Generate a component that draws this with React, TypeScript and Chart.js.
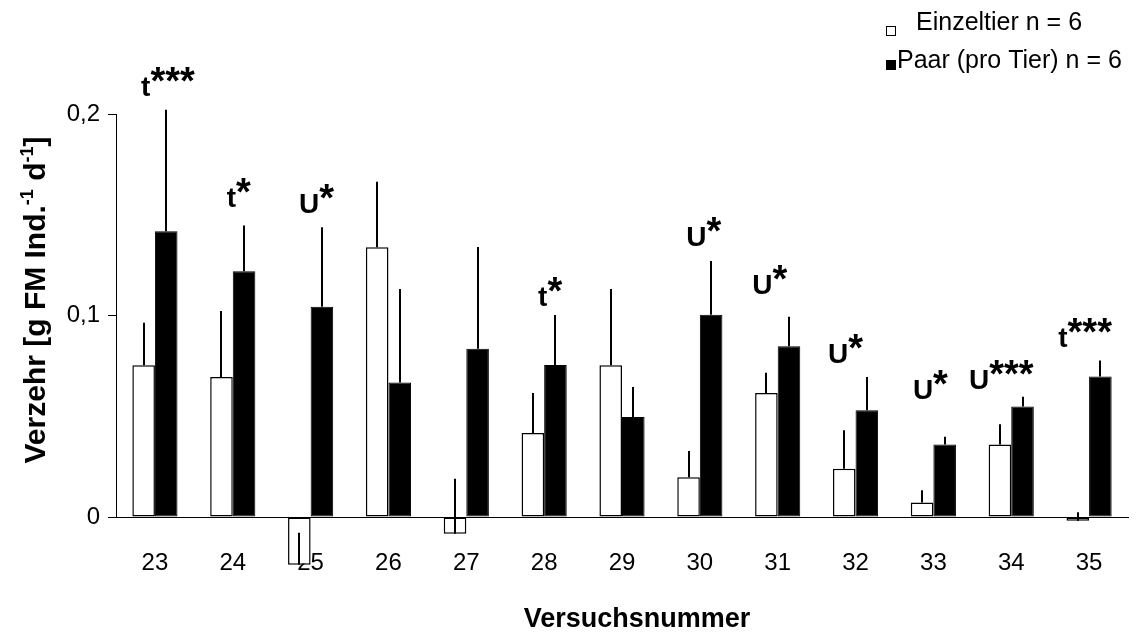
import React, { useEffect, useRef } from 'react';
import { Chart, registerables } from 'chart.js';

Chart.register(...registerables);

// ---------- data ----------
const categories = ['23', '24', '25', '26', '27', '28', '29', '30', '31', '32', '33', '34', '35'];
const einzelValues = [0.0753, 0.0695, -0.0237, 0.1339, -0.0083, 0.0417, 0.0753, 0.0197, 0.0616, 0.024, 0.0072, 0.036, -0.0019];
const einzelErrors = [0.0211, 0.0327, 0.0159, 0.0325, 0.0273, 0.0198, 0.0379, 0.0131, 0.0100, 0.019, 0.0061, 0.0100, 0.0042];
const paarValues = [0.1418, 0.122, 0.1043, 0.0667, 0.0835, 0.0754, 0.0496, 0.1004, 0.0847, 0.053, 0.036, 0.0549, 0.0697];
const paarErrors = [0.0603, 0.0227, 0.0395, 0.0465, 0.0505, 0.0248, 0.0149, 0.0266, 0.0147, 0.0165, 0.0038, 0.0048, 0.0080];
const sigTests = ['t', 't', 'U', '', '', 't', '', 'U', 'U', 'U', 'U', 'U', 't'];
const sigStars = ['***', '*', '*', '', '', '*', '', '*', '*', '*', '*', '***', '***'];
const sigLevels = [0.209, 0.154, 0.151, null, null, 0.1047, null, 0.1345, 0.1107, 0.0766, 0.0586, 0.0635, 0.0844];
const yTicks = [0, 0.1, 0.2];
const yTickLabels = ['0', '0,1', '0,2'];
const seriesNames = ['Einzeltier n = 6', 'Paar (pro Tier) n = 6'];
const xTitle = 'Versuchsnummer';

// ---------- layout (pixel nudges for the significance labels) ----------
const sigShift = [13, 6, 6, 0, 0, 6, 0, 4, -8, -10, -3, -10, -4];

const FONT = '"Liberation Sans", Arial, sans-serif';

const customPlugin = {
  id: 'custom',
  afterDatasetsDraw(chart: any) {
    const ctx = chart.ctx;
    const x = chart.scales.x;
    const y = chart.scales.y;
    const errs = [einzelErrors, paarErrors];
    const vals = [einzelValues, paarValues];
    ctx.save();
    ctx.strokeStyle = '#000';
    ctx.lineWidth = 2;
    for (let d = 0; d < 2; d++) {
      const meta = chart.getDatasetMeta(d);
      meta.data.forEach((el: any, i: number) => {
        const v = vals[d][i];
        const e = errs[d][i];
        const px = Math.round(el.x);
        ctx.beginPath();
        ctx.moveTo(px, y.getPixelForValue(v));
        ctx.lineTo(px, y.getPixelForValue(v + e));
        ctx.stroke();
      });
    }
    // significance labels
    ctx.fillStyle = '#000';
    ctx.textBaseline = 'alphabetic';
    categories.forEach((_, i) => {
      const lvl = sigLevels[i];
      if (lvl === null || !sigTests[i]) return;
      const letterFont = `bold 28px ${FONT}`;
      const starFont = `bold 38px ${FONT}`;
      ctx.font = letterFont;
      const lw = ctx.measureText(sigTests[i]).width;
      ctx.font = starFont;
      const sw = ctx.measureText(sigStars[i]).width;
      const cx = x.getPixelForValue(i) + sigShift[i];
      const left = cx - (lw + sw) / 2;
      const base = y.getPixelForValue(lvl);
      ctx.textAlign = 'left';
      ctx.font = letterFont;
      ctx.fillText(sigTests[i], left, base);
      ctx.font = starFont;
      ctx.fillText(sigStars[i], left + lw, base - 2);
    });
    ctx.restore();
  },
  afterDraw(chart: any) {
    const ctx = chart.ctx;
    ctx.save();
    ctx.fillStyle = '#000';
    // x title
    ctx.font = `bold 27px ${FONT}`;
    ctx.textAlign = 'center';
    ctx.textBaseline = 'alphabetic';
    ctx.fillText(xTitle, 637, 627);
    // y title with superscripts
    const parts: [string, boolean][] = [
      ['Verzehr [g FM Ind.', false],
      ['-1', true],
      [' d', false],
      ['-1', true],
      [']', false],
    ];
    const mainFont = `bold 30px ${FONT}`;
    const supFont = `bold 18px ${FONT}`;
    let total = 0;
    parts.forEach(([t, sup]) => {
      ctx.font = sup ? supFont : mainFont;
      total += ctx.measureText(t).width;
    });
    ctx.translate(45, 300);
    ctx.rotate(-Math.PI / 2);
    let pos = -total / 2;
    ctx.textAlign = 'left';
    parts.forEach(([t, sup]) => {
      ctx.font = sup ? supFont : mainFont;
      ctx.fillText(t, pos, sup ? -12 : 0);
      pos += ctx.measureText(t).width;
    });
    ctx.setTransform(1, 0, 0, 1, 0, 0);
    // legend
    const items = [
      { fill: '#fff', text: seriesNames[0], y: 30, by: 26, bx: 886, tx: 916 },
      { fill: '#000', text: seriesNames[1], y: 68, by: 60, bx: 886, tx: 897 },
    ];
    ctx.font = `25px ${FONT}`;
    ctx.textAlign = 'left';
    items.forEach((it) => {
      ctx.fillStyle = it.fill;
      ctx.fillRect(it.bx, it.by, 9, 9);
      ctx.strokeStyle = '#000';
      ctx.lineWidth = 1;
      ctx.strokeRect(it.bx + 0.5, it.by + 0.5, 9, 9);
      ctx.fillStyle = '#000';
      ctx.fillText(it.text, it.tx, it.y);
    });
    ctx.restore();
  },
};

export default function App() {
  const ref = useRef<HTMLCanvasElement | null>(null);
  useEffect(() => {
    document.body.style.margin = '0';
    const canvas = ref.current;
    if (!canvas) return;
    const tickFont = { family: FONT, size: 24 };
    const chart = new Chart(canvas, {
      type: 'bar',
      data: {
        labels: categories,
        datasets: [
          {
            label: seriesNames[0],
            data: einzelValues,
            backgroundColor: '#ffffff',
            borderColor: '#000000',
            borderWidth: 1.5,
            borderSkipped: false,
            clip: false,
            categoryPercentage: 0.58,
            barPercentage: 1,
          } as any,
          {
            label: seriesNames[1],
            data: paarValues,
            backgroundColor: '#000000',
            borderColor: '#000000',
            borderWidth: 1,
            borderSkipped: false,
            clip: false,
            categoryPercentage: 0.58,
            barPercentage: 1,
          } as any,
        ],
      },
      options: {
        responsive: false,
        animation: false,
        devicePixelRatio: 1,
        layout: { padding: { left: 0, right: 9, top: 114, bottom: 0 } },
        plugins: { legend: { display: false }, tooltip: { enabled: false } },
        scales: {
          x: {
            z: 1,
            grid: { display: false },
            border: { display: true, color: '#000', width: 1 },
            ticks: { font: tickFont, color: '#000', padding: 24, maxRotation: 0, autoSkip: false },
            afterFit: (s: any) => { s.height = 116; },
          },
          y: {
            min: 0,
            max: 0.2,
            afterBuildTicks: (s: any) => { s.ticks = yTicks.map((v) => ({ value: v })); },
            afterFit: (s: any) => { s.width = 116; },
            grid: { display: true, drawOnChartArea: false, drawTicks: true, tickLength: 8, color: '#000' },
            border: { display: true, color: '#000', width: 1 },
            ticks: {
              font: tickFont,
              color: '#000',
              padding: 8,
              callback: (v: any) => {
                const idx = yTicks.findIndex((t) => Math.abs(t - Number(v)) < 1e-9);
                return idx >= 0 ? yTickLabels[idx] : '';
              },
            },
          },
        },
      } as any,
      plugins: [customPlugin],
    });
    return () => chart.destroy();
  }, []);
  return (
    <div style={{ width: 1137, height: 633, background: '#fff' }}>
      <canvas ref={ref} width={1137} height={633} />
    </div>
  );
}
